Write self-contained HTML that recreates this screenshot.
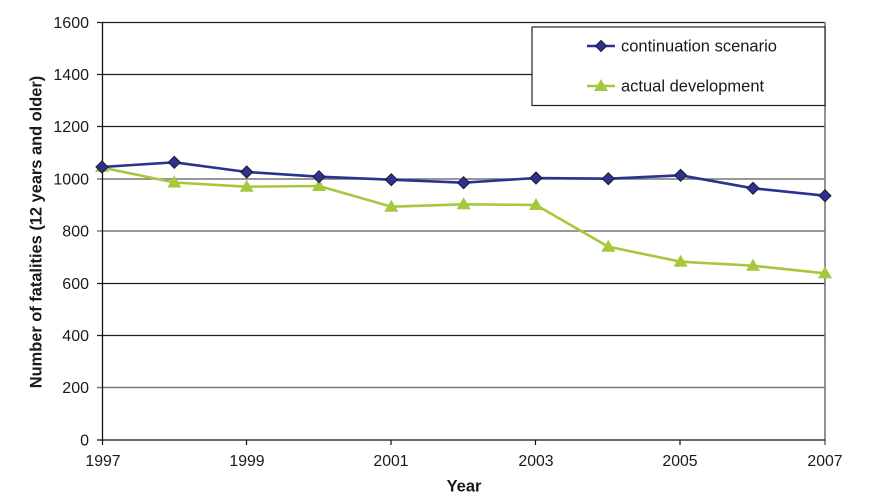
<!DOCTYPE html>
<html><head><meta charset="utf-8"><style>
html,body{margin:0;padding:0;background:#fff;}
svg{display:block;}
text{font-family:"Liberation Sans",Arial,sans-serif;fill:#1a1a1a;}
</style></head><body>
<svg width="885" height="502" viewBox="0 0 885 502" xmlns="http://www.w3.org/2000/svg">
<rect width="885" height="502" fill="#fff"/>
<!-- gridlines -->
<g stroke-width="1.2">
<line x1="97" y1="22.5" x2="825" y2="22.5" stroke="#1e1e1e"/>
<line x1="97" y1="74.5" x2="825" y2="74.5" stroke="#1e1e1e"/>
<line x1="97" y1="126.5" x2="825" y2="126.5" stroke="#1e1e1e"/>
<line x1="97" y1="179" x2="825" y2="179" stroke="#777" stroke-width="1.6"/>
<line x1="97" y1="231" x2="825" y2="231" stroke="#777" stroke-width="1.4"/>
<line x1="97" y1="283.5" x2="825" y2="283.5" stroke="#1e1e1e"/>
<line x1="97" y1="335.5" x2="825" y2="335.5" stroke="#1e1e1e"/>
<line x1="97" y1="387.5" x2="825" y2="387.5" stroke="#777" stroke-width="1.6"/>
</g>
<!-- axes -->
<line x1="102.5" y1="22" x2="102.5" y2="441" stroke="#111" stroke-width="1.3"/>
<line x1="825" y1="22" x2="825" y2="445" stroke="#777" stroke-width="1.6"/>
<line x1="97" y1="440" x2="825" y2="440" stroke="#111" stroke-width="1.3"/>
<!-- x ticks -->
<g stroke="#111" stroke-width="1.2">
<line x1="102.5" y1="440" x2="102.5" y2="445"/>
<line x1="246.5" y1="440" x2="246.5" y2="445"/>
<line x1="391" y1="440" x2="391" y2="445"/>
<line x1="535.5" y1="440" x2="535.5" y2="445"/>
<line x1="680" y1="440" x2="680" y2="445"/>
</g>
<!-- y labels -->
<g font-size="16" text-anchor="end">
<text x="89" y="28">1600</text>
<text x="89" y="80">1400</text>
<text x="89" y="132">1200</text>
<text x="89" y="184.5">1000</text>
<text x="89" y="236.5">800</text>
<text x="89" y="289">600</text>
<text x="89" y="341">400</text>
<text x="89" y="393">200</text>
<text x="89" y="445.5">0</text>
</g>
<!-- x labels -->
<g font-size="15.8" text-anchor="middle">
<text x="103" y="466">1997</text>
<text x="247" y="466">1999</text>
<text x="391" y="466">2001</text>
<text x="536" y="466">2003</text>
<text x="680" y="466">2005</text>
<text x="825" y="466">2007</text>
</g>
<text x="464" y="491.5" font-size="16.5" font-weight="bold" text-anchor="middle">Year</text>
<text transform="translate(41.5,232) rotate(-90)" font-size="16.4" font-weight="bold" text-anchor="middle">Number of fatalities (12 years and older)</text>
<!-- green series -->
<polyline fill="none" stroke="#a6c83c" stroke-width="2.6" stroke-linejoin="round" points="102,167.5 174.3,182.5 246.7,186.7 319,186 391.3,206.7 463.6,204.3 536,205 608.3,246.7 680.6,261.7 753,265.7 825,273.3"/>
<g fill="#a6c83c">
<polygon points="102,160 109,172 95,172"/>
<polygon points="174.3,175.5 181.3,187.5 167.3,187.5"/>
<polygon points="246.7,179.7 253.7,191.7 239.7,191.7"/>
<polygon points="319,179 326,191 312,191"/>
<polygon points="391.3,199.7 398.3,211.7 384.3,211.7"/>
<polygon points="463.6,197.3 470.6,209.3 456.6,209.3"/>
<polygon points="536,198 543,210 529,210"/>
<polygon points="608.3,239.7 615.3,251.7 601.3,251.7"/>
<polygon points="680.6,254.7 687.6,266.7 673.6,266.7"/>
<polygon points="753,258.7 760,270.7 746,270.7"/>
<polygon points="825,266.3 832,278.3 818,278.3"/>
</g>
<!-- blue series -->
<polyline fill="none" stroke="#2b3290" stroke-width="2.6" stroke-linejoin="round" points="102,167 174.3,162.3 246.7,172 319,176.7 391.3,179.7 463.6,182.7 536,178 608.3,178.7 680.6,175.3 753,188.3 825,195.7"/>
<g fill="#2b3290" stroke="#1a1a2a" stroke-width="1">
<polygon points="102,161 108,167 102,173 96,167"/>
<polygon points="174.3,156.3 180.3,162.3 174.3,168.3 168.3,162.3"/>
<polygon points="246.7,166 252.7,172 246.7,178 240.7,172"/>
<polygon points="319,170.7 325,176.7 319,182.7 313,176.7"/>
<polygon points="391.3,173.7 397.3,179.7 391.3,185.7 385.3,179.7"/>
<polygon points="463.6,176.7 469.6,182.7 463.6,188.7 457.6,182.7"/>
<polygon points="536,172 542,178 536,184 530,178"/>
<polygon points="608.3,172.7 614.3,178.7 608.3,184.7 602.3,178.7"/>
<polygon points="680.6,169.3 686.6,175.3 680.6,181.3 674.6,175.3"/>
<polygon points="753,182.3 759,188.3 753,194.3 747,188.3"/>
<polygon points="825,189.7 831,195.7 825,201.7 819,195.7"/>
</g>
<!-- legend -->
<rect x="532" y="27" width="293" height="78.5" fill="#fff" stroke="#222" stroke-width="1.2"/>
<line x1="587" y1="46" x2="615" y2="46" stroke="#2b3290" stroke-width="2.6"/>
<polygon points="601,40.5 606.5,46 601,51.5 595.5,46" fill="#2b3290" stroke="#1a1a2a" stroke-width="1"/>
<text x="621" y="51.5" font-size="16.5">continuation scenario</text>
<line x1="587" y1="86" x2="615" y2="86" stroke="#a6c83c" stroke-width="2.6"/>
<polygon points="601,79 608,91 594,91" fill="#a6c83c"/>
<text x="621" y="91.5" font-size="16.5">actual development</text>
</svg>
</body></html>
